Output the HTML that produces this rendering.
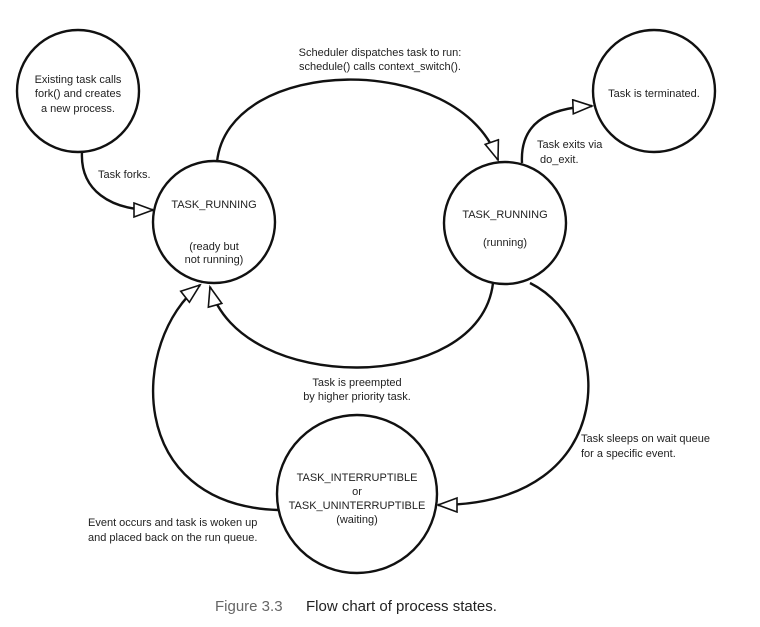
<!DOCTYPE html>
<html><head><meta charset="utf-8"><style>
html,body{margin:0;padding:0;background:#fff}
svg{display:block}
text{font-family:"Liberation Sans",sans-serif;font-size:11px;fill:#222}
</style></head><body>
<svg width="760" height="627" viewBox="0 0 760 627" xmlns="http://www.w3.org/2000/svg">
<defs>
<marker id="a" markerWidth="24" markerHeight="18" refX="20" refY="8" orient="auto" markerUnits="userSpaceOnUse">
<path d="M1,1 L20,8 L1,15 Z" fill="#fff" stroke="#111" stroke-width="1.6"/>
</marker>
</defs>
<g fill="none" stroke="#111" stroke-width="2.4">
<circle cx="78" cy="91" r="61"/>
<circle cx="214" cy="222" r="61"/>
<circle cx="505" cy="223" r="61"/>
<circle cx="654" cy="91" r="61"/>
<ellipse cx="357" cy="494" rx="80" ry="79"/>
<path d="M217,162 C228,55 460,50 498,160" marker-end="url(#a)"/>
<path d="M82,152 C80,190 110,210 153,210" marker-end="url(#a)"/>
<path d="M522,163 C520,125 545,108 592,106" marker-end="url(#a)"/>
<path d="M493,283 C480,395 240,395 210,287" marker-end="url(#a)"/>
<path d="M530,283 C615,325 625,505 438,505" marker-end="url(#a)"/>
<path d="M278,510 C125,505 130,340 200,285" marker-end="url(#a)"/>
</g>
<g text-anchor="middle">
<text x="78" y="83">Existing task calls</text>
<text x="78" y="97">fork() and creates</text>
<text x="78" y="112">a new process.</text>
<text x="214" y="208">TASK_RUNNING</text>
<text x="214" y="250">(ready but</text>
<text x="214" y="263">not running)</text>
<text x="505" y="218">TASK_RUNNING</text>
<text x="505" y="246">(running)</text>
<text x="654" y="97">Task is terminated.</text>
<text x="380" y="56">Scheduler dispatches task to run:</text>
<text x="380" y="70">schedule() calls context_switch().</text>
<text x="357" y="386">Task is preempted</text>
<text x="357" y="400">by higher priority task.</text>
<text x="357" y="481">TASK_INTERRUPTIBLE</text>
<text x="357" y="495">or</text>
<text x="357" y="509">TASK_UNINTERRUPTIBLE</text>
<text x="357" y="523">(waiting)</text>
</g>
<text x="98" y="178">Task forks.</text>
<text x="537" y="148">Task exits via</text>
<text x="540" y="163">do_exit.</text>
<text x="581" y="442">Task sleeps on wait queue</text>
<text x="581" y="457">for a specific event.</text>
<text x="88" y="526">Event occurs and task is woken up</text>
<text x="88" y="541">and placed back on the run queue.</text>
<text x="215" y="611" style="font-size:15px;fill:#666">Figure 3.3</text>
<text x="306" y="611" style="font-size:15px;fill:#222">Flow chart of process states.</text>
</svg>
</body></html>
